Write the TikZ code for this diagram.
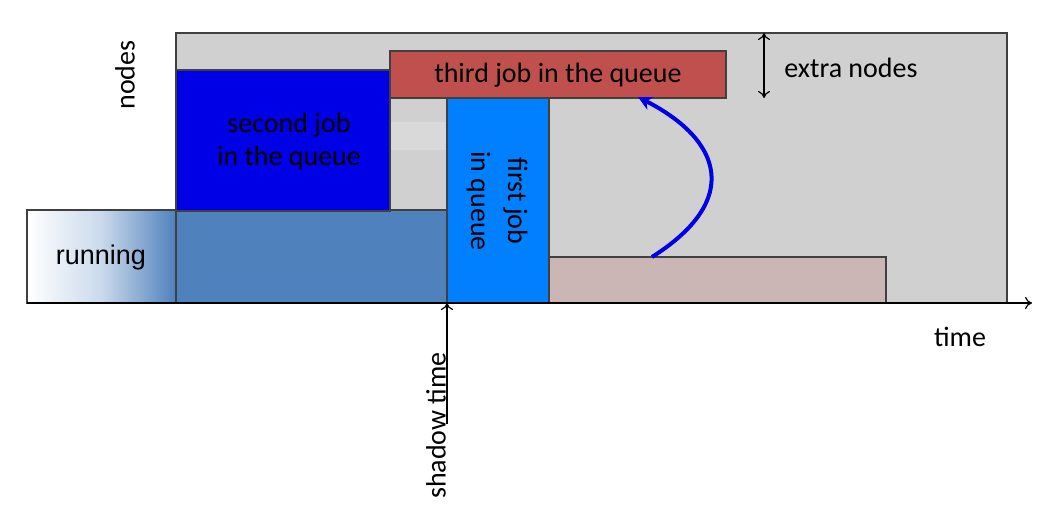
\documentclass[tikz,border=0pt]{standalone}
\usepackage{fontspec}
\setmainfont{Carlito}
\newfontfamily\arialf{Liberation Sans}
\usetikzlibrary{arrows.meta}
\definecolor{bggray}{HTML}{D0D0D0}
\definecolor{patch}{HTML}{D9D9D9}
\definecolor{steel}{HTML}{4F81BD}
\definecolor{jobblue}{HTML}{0000E6}
\definecolor{qblue}{HTML}{0080FF}
\definecolor{jobred}{HTML}{C0504D}
\definecolor{jobpink}{HTML}{CBB6B6}
\definecolor{edge}{HTML}{404040}
\tikzset{
  box/.style={draw=edge, line width=1.2pt},
  lbl/.style={font=\fontsize{28}{33}\selectfont, align=center, inner sep=0pt},
  thinarrow/.style={line width=1.2pt, -{To[length=7pt,width=12pt]}},
}
\begin{document}
\begin{tikzpicture}[x=1pt,y=-1pt]
\useasboundingbox (0,0) rectangle (1057,529);
% background
\draw[box, fill=bggray] (176,33) rectangle (1007,303);
\fill[patch] (391,122) rectangle (446,150);
% running
\shade[left color=white, right color=steel, middle color=white!70!steel] (27,210) rectangle (176,303);
\draw[box] (27,210) rectangle (176,303);
\node[lbl, font=\arialf\fontsize{27}{31}\selectfont] (run) at (101,258) {running};
% steel blue block
\draw[box, fill=steel] (176,210) rectangle (447,303);
% second job
\draw[box, fill=jobblue] (176,70) rectangle (390,211);
\node[lbl] (second) at (289,142) {second job\\in the queue};
% third job
\draw[box, fill=jobred] (390,51) rectangle (726,98);
\node[lbl] (third) at (558,75) {third job in the queue};
% first job
\draw[box, fill=qblue] (447,98) rectangle (549,303);
\node[lbl, rotate=-90] (first) at (497,201) {first job\\[4pt]in queue};
% pink
\draw[box, fill=jobpink] (549,257) rectangle (886,303);
% axis
\coordinate (o) at (27,303);
\coordinate (xend) at (1032,303);
\draw[thinarrow] (o) -- (xend);
\node[lbl] (time) at (960,337) {time};
\node[lbl, rotate=90] (nodes) at (125,75) {nodes};
% extra nodes
\coordinate (et) at (764,33);
\coordinate (eb) at (764,98);
\draw[line width=1.2pt, {To[length=7pt,width=12pt]}-{To[length=7pt,width=12pt]}] (et) -- (eb);
\node[lbl] (extra) at (851,68) {extra nodes};
% shadow time
\coordinate (sb) at (447,424);
\coordinate (st) at (447,303);
\draw[thinarrow] (sb) -- (st);
\node[lbl, rotate=90, anchor=west] (shadow) at (436,499) {shadow time};
% curve
\coordinate (cs) at (652,257);
\coordinate (ce) at (638,97);
\draw[jobblue, line width=4pt, -{Stealth[length=14pt,width=14pt]}] (cs) .. controls (742,200) and (722,140) .. (ce);
\end{tikzpicture}
\end{document}
